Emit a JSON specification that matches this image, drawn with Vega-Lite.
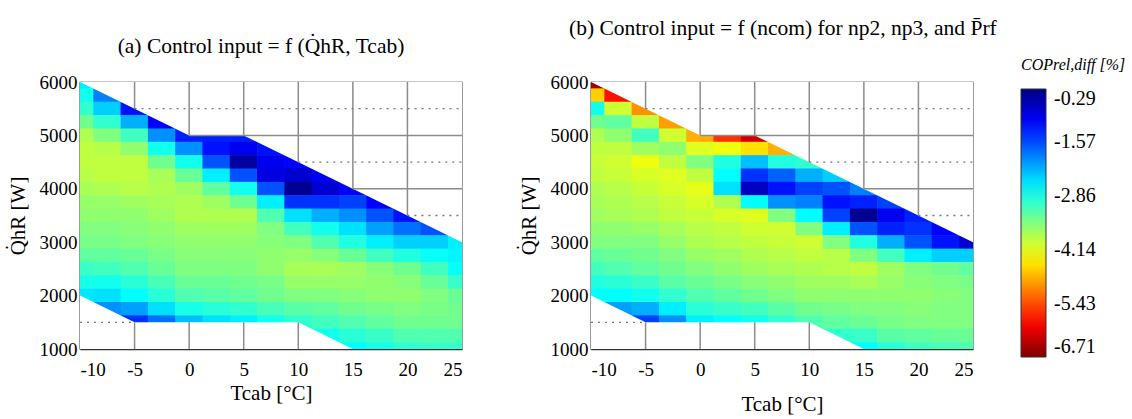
{
"$schema":"https://vega.github.io/schema/vega-lite/v6.json",
"padding":{"left":6,"top":16,"right":5,"bottom":5},
"bounds":"flush",
"spacing":129,
"config":{"view":{"stroke":"#8a8a8a","strokeWidth":1.3},
 "axis":{"labelFont":"Liberation Serif","titleFont":"Liberation Serif","labelFontSize":19,"titleFontSize":21,"titleFontWeight":"normal","labelColor":"black","titleColor":"black","grid":false,"ticks":false,"domainColor":"#333","domainWidth":1.6},
 "legend":{"labelFont":"Liberation Serif","titleFont":"Liberation Serif"},
 "title":{"font":"Liberation Serif","fontSize":21.5,"fontWeight":"normal","color":"black"}},
"datasets":{
"mask":[{"g":"u","x":-10,"y":6000,"y2":6000},{"g":"u","x":0,"y":5000,"y2":6000},{"g":"u","x":5,"y":5000,"y2":6000},{"g":"u","x":25,"y":3000,"y2":6000},
{"g":"l","x":-10,"y":1000,"y2":2000},{"g":"l","x":-5,"y":1000,"y2":1500},{"g":"l","x":10,"y":1000,"y2":1500},{"g":"l","x":15,"y":1000,"y2":1000}],
"grid":[{"x":-5,"x2":-5,"y":5500,"y2":6000,"d":"s"},{"x":0,"x2":0,"y":5000,"y2":6000,"d":"s"},{"x":5,"x2":5,"y":5000,"y2":6000,"d":"s"},{"x":10,"x2":10,"y":4500,"y2":6000,"d":"s"},{"x":15,"x2":15,"y":4000,"y2":6000,"d":"s"},{"x":20,"x2":20,"y":3500,"y2":6000,"d":"s"},{"x":0,"x2":25,"y":5000,"y2":5000,"d":"s"},{"x":15,"x2":25,"y":4000,"y2":4000,"d":"s"},{"x":-5,"x2":25,"y":5500,"y2":5500,"d":"d"},{"x":10,"x2":25,"y":4500,"y2":4500,"d":"d"},{"x":20,"x2":25,"y":3500,"y2":3500,"d":"d"},{"x":-5,"x2":-5,"y":1000,"y2":1500,"d":"s"},{"x":0,"x2":0,"y":1000,"y2":1500,"d":"s"},{"x":5,"x2":5,"y":1000,"y2":1500,"d":"s"},{"x":10,"x2":10,"y":1000,"y2":1500,"d":"s"},{"x":-10,"x2":-5,"y":1500,"y2":1500,"d":"d"}],
"cells":[
{"p":"a","t":-10,"q":6000,"v":-2.6},{"p":"a","t":-10,"q":5750,"v":-2.8},{"p":"a","t":-10,"q":5500,"v":-3.0},{"p":"a","t":-10,"q":5250,"v":-3.4},{"p":"a","t":-10,"q":5000,"v":-3.8},{"p":"a","t":-10,"q":4750,"v":-3.9},{"p":"a","t":-10,"q":4500,"v":-3.9},{"p":"a","t":-10,"q":4250,"v":-3.85},{"p":"a","t":-10,"q":4000,"v":-3.75},{"p":"a","t":-10,"q":3750,"v":-3.65},{"p":"a","t":-10,"q":3500,"v":-3.6},{"p":"a","t":-10,"q":3250,"v":-3.5},{"p":"a","t":-10,"q":3000,"v":-3.45},{"p":"a","t":-10,"q":2750,"v":-3.3},{"p":"a","t":-10,"q":2500,"v":-3.05},{"p":"a","t":-10,"q":2250,"v":-2.85},{"p":"a","t":-10,"q":2000,"v":-2.55},
{"p":"a","t":-7.5,"q":5750,"v":-1.9},{"p":"a","t":-7.5,"q":5500,"v":-2.4},{"p":"a","t":-7.5,"q":5250,"v":-3.0},{"p":"a","t":-7.5,"q":5000,"v":-3.5},{"p":"a","t":-7.5,"q":4750,"v":-3.85},{"p":"a","t":-7.5,"q":4500,"v":-3.9},{"p":"a","t":-7.5,"q":4250,"v":-3.9},{"p":"a","t":-7.5,"q":4000,"v":-3.8},{"p":"a","t":-7.5,"q":3750,"v":-3.65},{"p":"a","t":-7.5,"q":3500,"v":-3.6},{"p":"a","t":-7.5,"q":3250,"v":-3.5},{"p":"a","t":-7.5,"q":3000,"v":-3.45},{"p":"a","t":-7.5,"q":2750,"v":-3.3},{"p":"a","t":-7.5,"q":2500,"v":-3.1},{"p":"a","t":-7.5,"q":2250,"v":-2.8},{"p":"a","t":-7.5,"q":2000,"v":-2.5},{"p":"a","t":-7.5,"q":1750,"v":-2.0},
{"p":"a","t":-5,"q":5500,"v":-1.2},{"p":"a","t":-5,"q":5250,"v":-2.2},{"p":"a","t":-5,"q":5000,"v":-3.1},{"p":"a","t":-5,"q":4750,"v":-3.6},{"p":"a","t":-5,"q":4500,"v":-3.9},{"p":"a","t":-5,"q":4250,"v":-3.9},{"p":"a","t":-5,"q":4000,"v":-3.85},{"p":"a","t":-5,"q":3750,"v":-3.7},{"p":"a","t":-5,"q":3500,"v":-3.6},{"p":"a","t":-5,"q":3250,"v":-3.55},{"p":"a","t":-5,"q":3000,"v":-3.5},{"p":"a","t":-5,"q":2750,"v":-3.35},{"p":"a","t":-5,"q":2500,"v":-3.2},{"p":"a","t":-5,"q":2250,"v":-2.95},{"p":"a","t":-5,"q":2000,"v":-2.7},{"p":"a","t":-5,"q":1750,"v":-2.1},{"p":"a","t":-5,"q":1500,"v":-1.4},
{"p":"a","t":-2.5,"q":5250,"v":-1.1},{"p":"a","t":-2.5,"q":5000,"v":-2.0},{"p":"a","t":-2.5,"q":4750,"v":-2.8},{"p":"a","t":-2.5,"q":4500,"v":-3.4},{"p":"a","t":-2.5,"q":4250,"v":-3.75},{"p":"a","t":-2.5,"q":4000,"v":-3.8},{"p":"a","t":-2.5,"q":3750,"v":-3.75},{"p":"a","t":-2.5,"q":3500,"v":-3.7},{"p":"a","t":-2.5,"q":3250,"v":-3.6},{"p":"a","t":-2.5,"q":3000,"v":-3.55},{"p":"a","t":-2.5,"q":2750,"v":-3.45},{"p":"a","t":-2.5,"q":2500,"v":-3.35},{"p":"a","t":-2.5,"q":2250,"v":-3.15},{"p":"a","t":-2.5,"q":2000,"v":-2.95},{"p":"a","t":-2.5,"q":1750,"v":-2.5},{"p":"a","t":-2.5,"q":1500,"v":-1.8},
{"p":"a","t":0,"q":5000,"v":-1.3},{"p":"a","t":0,"q":4750,"v":-2.0},{"p":"a","t":0,"q":4500,"v":-2.8},{"p":"a","t":0,"q":4250,"v":-3.35},{"p":"a","t":0,"q":4000,"v":-3.7},{"p":"a","t":0,"q":3750,"v":-3.8},{"p":"a","t":0,"q":3500,"v":-3.8},{"p":"a","t":0,"q":3250,"v":-3.7},{"p":"a","t":0,"q":3000,"v":-3.6},{"p":"a","t":0,"q":2750,"v":-3.55},{"p":"a","t":0,"q":2500,"v":-3.5},{"p":"a","t":0,"q":2250,"v":-3.35},{"p":"a","t":0,"q":2000,"v":-3.2},{"p":"a","t":0,"q":1750,"v":-2.85},{"p":"a","t":0,"q":1500,"v":-2.3},
{"p":"a","t":2.5,"q":5000,"v":-1.3},{"p":"a","t":2.5,"q":4750,"v":-1.2},{"p":"a","t":2.5,"q":4500,"v":-1.6},{"p":"a","t":2.5,"q":4250,"v":-2.6},{"p":"a","t":2.5,"q":4000,"v":-3.3},{"p":"a","t":2.5,"q":3750,"v":-3.7},{"p":"a","t":2.5,"q":3500,"v":-3.8},{"p":"a","t":2.5,"q":3250,"v":-3.7},{"p":"a","t":2.5,"q":3000,"v":-3.6},{"p":"a","t":2.5,"q":2750,"v":-3.55},{"p":"a","t":2.5,"q":2500,"v":-3.5},{"p":"a","t":2.5,"q":2250,"v":-3.35},{"p":"a","t":2.5,"q":2000,"v":-3.25},{"p":"a","t":2.5,"q":1750,"v":-2.95},{"p":"a","t":2.5,"q":1500,"v":-2.5},
{"p":"a","t":5,"q":5000,"v":-1.3},{"p":"a","t":5,"q":4750,"v":-1.0},{"p":"a","t":5,"q":4500,"v":-0.5},{"p":"a","t":5,"q":4250,"v":-1.6},{"p":"a","t":5,"q":4000,"v":-2.8},{"p":"a","t":5,"q":3750,"v":-3.4},{"p":"a","t":5,"q":3500,"v":-3.8},{"p":"a","t":5,"q":3250,"v":-3.7},{"p":"a","t":5,"q":3000,"v":-3.6},{"p":"a","t":5,"q":2750,"v":-3.55},{"p":"a","t":5,"q":2500,"v":-3.5},{"p":"a","t":5,"q":2250,"v":-3.4},{"p":"a","t":5,"q":2000,"v":-3.3},{"p":"a","t":5,"q":1750,"v":-3.0},{"p":"a","t":5,"q":1500,"v":-2.6},
{"p":"a","t":7.5,"q":4750,"v":-1.2},{"p":"a","t":7.5,"q":4500,"v":-1.0},{"p":"a","t":7.5,"q":4250,"v":-0.9},{"p":"a","t":7.5,"q":4000,"v":-1.6},{"p":"a","t":7.5,"q":3750,"v":-2.6},{"p":"a","t":7.5,"q":3500,"v":-3.2},{"p":"a","t":7.5,"q":3250,"v":-3.5},{"p":"a","t":7.5,"q":3000,"v":-3.55},{"p":"a","t":7.5,"q":2750,"v":-3.6},{"p":"a","t":7.5,"q":2500,"v":-3.6},{"p":"a","t":7.5,"q":2250,"v":-3.45},{"p":"a","t":7.5,"q":2000,"v":-3.4},{"p":"a","t":7.5,"q":1750,"v":-3.15},{"p":"a","t":7.5,"q":1500,"v":-2.8},
{"p":"a","t":10,"q":4500,"v":-1.1},{"p":"a","t":10,"q":4250,"v":-0.8},{"p":"a","t":10,"q":4000,"v":-0.4},{"p":"a","t":10,"q":3750,"v":-1.4},{"p":"a","t":10,"q":3500,"v":-2.5},{"p":"a","t":10,"q":3250,"v":-3.1},{"p":"a","t":10,"q":3000,"v":-3.5},{"p":"a","t":10,"q":2750,"v":-3.65},{"p":"a","t":10,"q":2500,"v":-3.75},{"p":"a","t":10,"q":2250,"v":-3.65},{"p":"a","t":10,"q":2000,"v":-3.5},{"p":"a","t":10,"q":1750,"v":-3.25},{"p":"a","t":10,"q":1500,"v":-3.0},
{"p":"a","t":12.5,"q":4250,"v":-1.0},{"p":"a","t":12.5,"q":4000,"v":-0.8},{"p":"a","t":12.5,"q":3750,"v":-1.4},{"p":"a","t":12.5,"q":3500,"v":-2.2},{"p":"a","t":12.5,"q":3250,"v":-2.8},{"p":"a","t":12.5,"q":3000,"v":-3.2},{"p":"a","t":12.5,"q":2750,"v":-3.55},{"p":"a","t":12.5,"q":2500,"v":-3.75},{"p":"a","t":12.5,"q":2250,"v":-3.65},{"p":"a","t":12.5,"q":2000,"v":-3.5},{"p":"a","t":12.5,"q":1750,"v":-3.3},{"p":"a","t":12.5,"q":1500,"v":-3.1},{"p":"a","t":12.5,"q":1250,"v":-2.8},
{"p":"a","t":15,"q":4000,"v":-1.1},{"p":"a","t":15,"q":3750,"v":-1.5},{"p":"a","t":15,"q":3500,"v":-2.0},{"p":"a","t":15,"q":3250,"v":-2.5},{"p":"a","t":15,"q":3000,"v":-2.9},{"p":"a","t":15,"q":2750,"v":-3.35},{"p":"a","t":15,"q":2500,"v":-3.7},{"p":"a","t":15,"q":2250,"v":-3.65},{"p":"a","t":15,"q":2000,"v":-3.55},{"p":"a","t":15,"q":1750,"v":-3.4},{"p":"a","t":15,"q":1500,"v":-3.2},{"p":"a","t":15,"q":1250,"v":-2.95},{"p":"a","t":15,"q":1000,"v":-2.7},
{"p":"a","t":17.5,"q":3750,"v":-1.1},{"p":"a","t":17.5,"q":3500,"v":-1.6},{"p":"a","t":17.5,"q":3250,"v":-2.1},{"p":"a","t":17.5,"q":3000,"v":-2.6},{"p":"a","t":17.5,"q":2750,"v":-3.1},{"p":"a","t":17.5,"q":2500,"v":-3.55},{"p":"a","t":17.5,"q":2250,"v":-3.6},{"p":"a","t":17.5,"q":2000,"v":-3.6},{"p":"a","t":17.5,"q":1750,"v":-3.45},{"p":"a","t":17.5,"q":1500,"v":-3.3},{"p":"a","t":17.5,"q":1250,"v":-3.05},{"p":"a","t":17.5,"q":1000,"v":-2.85},
{"p":"a","t":20,"q":3500,"v":-1.2},{"p":"a","t":20,"q":3250,"v":-1.8},{"p":"a","t":20,"q":3000,"v":-2.4},{"p":"a","t":20,"q":2750,"v":-2.9},{"p":"a","t":20,"q":2500,"v":-3.4},{"p":"a","t":20,"q":2250,"v":-3.55},{"p":"a","t":20,"q":2000,"v":-3.6},{"p":"a","t":20,"q":1750,"v":-3.5},{"p":"a","t":20,"q":1500,"v":-3.4},{"p":"a","t":20,"q":1250,"v":-3.2},{"p":"a","t":20,"q":1000,"v":-3.0},
{"p":"a","t":22.5,"q":3250,"v":-1.6},{"p":"a","t":22.5,"q":3000,"v":-2.4},{"p":"a","t":22.5,"q":2750,"v":-2.75},{"p":"a","t":22.5,"q":2500,"v":-3.1},{"p":"a","t":22.5,"q":2250,"v":-3.35},{"p":"a","t":22.5,"q":2000,"v":-3.5},{"p":"a","t":22.5,"q":1750,"v":-3.45},{"p":"a","t":22.5,"q":1500,"v":-3.4},{"p":"a","t":22.5,"q":1250,"v":-3.2},{"p":"a","t":22.5,"q":1000,"v":-3.05},
{"p":"a","t":25,"q":3000,"v":-2.6},{"p":"a","t":25,"q":2750,"v":-2.65},{"p":"a","t":25,"q":2500,"v":-2.75},{"p":"a","t":25,"q":2250,"v":-3.05},{"p":"a","t":25,"q":2000,"v":-3.35},{"p":"a","t":25,"q":1750,"v":-3.4},{"p":"a","t":25,"q":1500,"v":-3.4},{"p":"a","t":25,"q":1250,"v":-3.2},{"p":"a","t":25,"q":1000,"v":-3.05},
{"p":"b","t":-10,"q":6000,"v":-6.5},{"p":"b","t":-10,"q":5750,"v":-4.6},{"p":"b","t":-10,"q":5500,"v":-2.8},{"p":"b","t":-10,"q":5250,"v":-3.4},{"p":"b","t":-10,"q":5000,"v":-3.8},{"p":"b","t":-10,"q":4750,"v":-3.9},{"p":"b","t":-10,"q":4500,"v":-3.95},{"p":"b","t":-10,"q":4250,"v":-3.9},{"p":"b","t":-10,"q":4000,"v":-3.8},{"p":"b","t":-10,"q":3750,"v":-3.75},{"p":"b","t":-10,"q":3500,"v":-3.7},{"p":"b","t":-10,"q":3250,"v":-3.6},{"p":"b","t":-10,"q":3000,"v":-3.5},{"p":"b","t":-10,"q":2750,"v":-3.3},{"p":"b","t":-10,"q":2500,"v":-3.1},{"p":"b","t":-10,"q":2250,"v":-2.9},{"p":"b","t":-10,"q":2000,"v":-2.7},
{"p":"b","t":-7.5,"q":5750,"v":-5.8},{"p":"b","t":-7.5,"q":5500,"v":-4.0},{"p":"b","t":-7.5,"q":5250,"v":-3.3},{"p":"b","t":-7.5,"q":5000,"v":-3.6},{"p":"b","t":-7.5,"q":4750,"v":-3.9},{"p":"b","t":-7.5,"q":4500,"v":-4.0},{"p":"b","t":-7.5,"q":4250,"v":-3.95},{"p":"b","t":-7.5,"q":4000,"v":-3.85},{"p":"b","t":-7.5,"q":3750,"v":-3.8},{"p":"b","t":-7.5,"q":3500,"v":-3.75},{"p":"b","t":-7.5,"q":3250,"v":-3.6},{"p":"b","t":-7.5,"q":3000,"v":-3.5},{"p":"b","t":-7.5,"q":2750,"v":-3.35},{"p":"b","t":-7.5,"q":2500,"v":-3.2},{"p":"b","t":-7.5,"q":2250,"v":-2.95},{"p":"b","t":-7.5,"q":2000,"v":-2.7},{"p":"b","t":-7.5,"q":1750,"v":-2.1},
{"p":"b","t":-5,"q":5500,"v":-5.0},{"p":"b","t":-5,"q":5250,"v":-3.9},{"p":"b","t":-5,"q":5000,"v":-3.1},{"p":"b","t":-5,"q":4750,"v":-3.7},{"p":"b","t":-5,"q":4500,"v":-4.2},{"p":"b","t":-5,"q":4250,"v":-4.05},{"p":"b","t":-5,"q":4000,"v":-3.95},{"p":"b","t":-5,"q":3750,"v":-3.85},{"p":"b","t":-5,"q":3500,"v":-3.8},{"p":"b","t":-5,"q":3250,"v":-3.65},{"p":"b","t":-5,"q":3000,"v":-3.5},{"p":"b","t":-5,"q":2750,"v":-3.4},{"p":"b","t":-5,"q":2500,"v":-3.3},{"p":"b","t":-5,"q":2250,"v":-3.05},{"p":"b","t":-5,"q":2000,"v":-2.8},{"p":"b","t":-5,"q":1750,"v":-2.2},{"p":"b","t":-5,"q":1500,"v":-1.5},
{"p":"b","t":-2.5,"q":5250,"v":-4.9},{"p":"b","t":-2.5,"q":5000,"v":-4.0},{"p":"b","t":-2.5,"q":4750,"v":-3.6},{"p":"b","t":-2.5,"q":4500,"v":-3.9},{"p":"b","t":-2.5,"q":4250,"v":-4.1},{"p":"b","t":-2.5,"q":4000,"v":-4.05},{"p":"b","t":-2.5,"q":3750,"v":-3.95},{"p":"b","t":-2.5,"q":3500,"v":-3.9},{"p":"b","t":-2.5,"q":3250,"v":-3.75},{"p":"b","t":-2.5,"q":3000,"v":-3.65},{"p":"b","t":-2.5,"q":2750,"v":-3.5},{"p":"b","t":-2.5,"q":2500,"v":-3.4},{"p":"b","t":-2.5,"q":2250,"v":-3.25},{"p":"b","t":-2.5,"q":2000,"v":-3.0},{"p":"b","t":-2.5,"q":1750,"v":-2.6},{"p":"b","t":-2.5,"q":1500,"v":-2.0},
{"p":"b","t":0,"q":5000,"v":-4.8},{"p":"b","t":0,"q":4750,"v":-4.1},{"p":"b","t":0,"q":4500,"v":-3.5},{"p":"b","t":0,"q":4250,"v":-3.9},{"p":"b","t":0,"q":4000,"v":-4.15},{"p":"b","t":0,"q":3750,"v":-4.05},{"p":"b","t":0,"q":3500,"v":-3.95},{"p":"b","t":0,"q":3250,"v":-3.85},{"p":"b","t":0,"q":3000,"v":-3.8},{"p":"b","t":0,"q":2750,"v":-3.65},{"p":"b","t":0,"q":2500,"v":-3.5},{"p":"b","t":0,"q":2250,"v":-3.35},{"p":"b","t":0,"q":2000,"v":-3.2},{"p":"b","t":0,"q":1750,"v":-2.95},{"p":"b","t":0,"q":1500,"v":-2.6},
{"p":"b","t":2.5,"q":5000,"v":-5.6},{"p":"b","t":2.5,"q":4750,"v":-4.2},{"p":"b","t":2.5,"q":4500,"v":-2.9},{"p":"b","t":2.5,"q":4250,"v":-2.7},{"p":"b","t":2.5,"q":4000,"v":-2.5},{"p":"b","t":2.5,"q":3750,"v":-3.8},{"p":"b","t":2.5,"q":3500,"v":-4.05},{"p":"b","t":2.5,"q":3250,"v":-3.9},{"p":"b","t":2.5,"q":3000,"v":-3.85},{"p":"b","t":2.5,"q":2750,"v":-3.7},{"p":"b","t":2.5,"q":2500,"v":-3.6},{"p":"b","t":2.5,"q":2250,"v":-3.45},{"p":"b","t":2.5,"q":2000,"v":-3.3},{"p":"b","t":2.5,"q":1750,"v":-3.05},{"p":"b","t":2.5,"q":1500,"v":-2.7},
{"p":"b","t":5,"q":5000,"v":-6.2},{"p":"b","t":5,"q":4750,"v":-4.5},{"p":"b","t":5,"q":4500,"v":-2.3},{"p":"b","t":5,"q":4250,"v":-1.4},{"p":"b","t":5,"q":4000,"v":-0.7},{"p":"b","t":5,"q":3750,"v":-2.7},{"p":"b","t":5,"q":3500,"v":-4.1},{"p":"b","t":5,"q":3250,"v":-4.0},{"p":"b","t":5,"q":3000,"v":-3.9},{"p":"b","t":5,"q":2750,"v":-3.8},{"p":"b","t":5,"q":2500,"v":-3.7},{"p":"b","t":5,"q":2250,"v":-3.55},{"p":"b","t":5,"q":2000,"v":-3.4},{"p":"b","t":5,"q":1750,"v":-3.1},{"p":"b","t":5,"q":1500,"v":-2.8},
{"p":"b","t":7.5,"q":4750,"v":-4.8},{"p":"b","t":7.5,"q":4500,"v":-2.9},{"p":"b","t":7.5,"q":4250,"v":-1.7},{"p":"b","t":7.5,"q":4000,"v":-1.2},{"p":"b","t":7.5,"q":3750,"v":-2.0},{"p":"b","t":7.5,"q":3500,"v":-3.5},{"p":"b","t":7.5,"q":3250,"v":-4.0},{"p":"b","t":7.5,"q":3000,"v":-3.95},{"p":"b","t":7.5,"q":2750,"v":-3.85},{"p":"b","t":7.5,"q":2500,"v":-3.75},{"p":"b","t":7.5,"q":2250,"v":-3.6},{"p":"b","t":7.5,"q":2000,"v":-3.5},{"p":"b","t":7.5,"q":1750,"v":-3.25},{"p":"b","t":7.5,"q":1500,"v":-3.0},
{"p":"b","t":10,"q":4500,"v":-3.0},{"p":"b","t":10,"q":4250,"v":-2.2},{"p":"b","t":10,"q":4000,"v":-1.5},{"p":"b","t":10,"q":3750,"v":-1.9},{"p":"b","t":10,"q":3500,"v":-2.7},{"p":"b","t":10,"q":3250,"v":-3.5},{"p":"b","t":10,"q":3000,"v":-4.0},{"p":"b","t":10,"q":2750,"v":-3.9},{"p":"b","t":10,"q":2500,"v":-3.8},{"p":"b","t":10,"q":2250,"v":-3.7},{"p":"b","t":10,"q":2000,"v":-3.6},{"p":"b","t":10,"q":1750,"v":-3.4},{"p":"b","t":10,"q":1500,"v":-3.2},
{"p":"b","t":12.5,"q":4250,"v":-2.4},{"p":"b","t":12.5,"q":4000,"v":-1.6},{"p":"b","t":12.5,"q":3750,"v":-1.2},{"p":"b","t":12.5,"q":3500,"v":-1.5},{"p":"b","t":12.5,"q":3250,"v":-2.6},{"p":"b","t":12.5,"q":3000,"v":-3.5},{"p":"b","t":12.5,"q":2750,"v":-3.85},{"p":"b","t":12.5,"q":2500,"v":-3.85},{"p":"b","t":12.5,"q":2250,"v":-3.7},{"p":"b","t":12.5,"q":2000,"v":-3.6},{"p":"b","t":12.5,"q":1750,"v":-3.45},{"p":"b","t":12.5,"q":1500,"v":-3.3},{"p":"b","t":12.5,"q":1250,"v":-3.0},
{"p":"b","t":15,"q":4000,"v":-1.9},{"p":"b","t":15,"q":3750,"v":-1.3},{"p":"b","t":15,"q":3500,"v":-0.4},{"p":"b","t":15,"q":3250,"v":-1.6},{"p":"b","t":15,"q":3000,"v":-2.9},{"p":"b","t":15,"q":2750,"v":-3.5},{"p":"b","t":15,"q":2500,"v":-3.9},{"p":"b","t":15,"q":2250,"v":-3.75},{"p":"b","t":15,"q":2000,"v":-3.6},{"p":"b","t":15,"q":1750,"v":-3.5},{"p":"b","t":15,"q":1500,"v":-3.35},{"p":"b","t":15,"q":1250,"v":-3.05},{"p":"b","t":15,"q":1000,"v":-2.7},
{"p":"b","t":17.5,"q":3750,"v":-1.5},{"p":"b","t":17.5,"q":3500,"v":-1.0},{"p":"b","t":17.5,"q":3250,"v":-1.3},{"p":"b","t":17.5,"q":3000,"v":-2.2},{"p":"b","t":17.5,"q":2750,"v":-3.1},{"p":"b","t":17.5,"q":2500,"v":-3.7},{"p":"b","t":17.5,"q":2250,"v":-3.65},{"p":"b","t":17.5,"q":2000,"v":-3.6},{"p":"b","t":17.5,"q":1750,"v":-3.5},{"p":"b","t":17.5,"q":1500,"v":-3.45},{"p":"b","t":17.5,"q":1250,"v":-3.25},{"p":"b","t":17.5,"q":1000,"v":-2.95},
{"p":"b","t":20,"q":3500,"v":-1.3},{"p":"b","t":20,"q":3250,"v":-1.4},{"p":"b","t":20,"q":3000,"v":-1.6},{"p":"b","t":20,"q":2750,"v":-2.6},{"p":"b","t":20,"q":2500,"v":-3.5},{"p":"b","t":20,"q":2250,"v":-3.55},{"p":"b","t":20,"q":2000,"v":-3.6},{"p":"b","t":20,"q":1750,"v":-3.55},{"p":"b","t":20,"q":1500,"v":-3.5},{"p":"b","t":20,"q":1250,"v":-3.3},{"p":"b","t":20,"q":1000,"v":-3.1},
{"p":"b","t":22.5,"q":3250,"v":-1.1},{"p":"b","t":22.5,"q":3000,"v":-1.2},{"p":"b","t":22.5,"q":2750,"v":-2.4},{"p":"b","t":22.5,"q":2500,"v":-3.4},{"p":"b","t":22.5,"q":2250,"v":-3.5},{"p":"b","t":22.5,"q":2000,"v":-3.55},{"p":"b","t":22.5,"q":1750,"v":-3.5},{"p":"b","t":22.5,"q":1500,"v":-3.5},{"p":"b","t":22.5,"q":1250,"v":-3.35},{"p":"b","t":22.5,"q":1000,"v":-3.15},
{"p":"b","t":25,"q":3000,"v":-0.8},{"p":"b","t":25,"q":2750,"v":-2.4},{"p":"b","t":25,"q":2500,"v":-3.3},{"p":"b","t":25,"q":2250,"v":-3.45},{"p":"b","t":25,"q":2000,"v":-3.5},{"p":"b","t":25,"q":1750,"v":-3.5},{"p":"b","t":25,"q":1500,"v":-3.5},{"p":"b","t":25,"q":1250,"v":-3.35},{"p":"b","t":25,"q":1000,"v":-3.2}
]},
"hconcat":[
{"width":382,"height":267,
 "title":{"text":"(a) Control input = f (Q\u0307hR, Tcab)","offset":16,"dx":-10,"font":"Liberation Serif","fontWeight":"normal"},
 "layer":[
  {"data":{"name":"cells"},"transform":[{"filter":"datum.p == 'a'"}],
   "mark":{"type":"rect","clip":true,"width":27.9,"height":13.9,"strokeWidth":0},
   "encoding":{
    "x":{"field":"t","type":"quantitative","scale":{"domain":[-10,25],"nice":false,"zero":false},"axis":{"values":[-10,-5,0,5,10,15,20,25],"labelExpr":"datum.value < 0 ? '-' + (-datum.value) : '' + datum.value","title":"Tcab  [°C]","labelPadding":11,"titlePadding":3,"labelFont":"Liberation Serif","titleFont":"Liberation Serif"}},
    "y":{"field":"q","type":"quantitative","scale":{"domain":[1000,6000],"nice":false,"zero":false},"axis":{"values":[1000,2000,3000,4000,5000,6000],"format":"d","title":"Q\u0307hR  [W]","labelPadding":3,"titlePadding":11,"labelFont":"Liberation Serif","titleFont":"Liberation Serif"}},
    "color":{"field":"v","type":"quantitative","scale":{"type":"linear","domain":[-6.71,-5.9075,-4.3025,-2.6975,-1.0925,-0.29],"range":["#800000","#ff0000","#ffff00","#00ffff","#0000ff","#000080"],"interpolate":"rgb"},
     "legend":{"title":"COPrel,diff [%]","orient":"none","legendX":941,"legendY":-25,"direction":"vertical","gradientLength":268,"gradientThickness":25,"values":[-6.71,-5.43,-4.14,-2.86,-1.57,-0.29],"labelExpr":"'-' + format(-datum.value, '.2f')","labelFont":"Liberation Serif","labelFontSize":20,"labelColor":"black","titleFont":"Liberation Serif","titleFontSize":16,"titleFontWeight":"normal","titleFontStyle":"italic","titleColor":"black","labelOffset":8,"gradientStrokeColor":"#333","gradientStrokeWidth":1,"labelOverlap":false,"titlePadding":16,"titleLimit":200}}}},
  {"data":{"name":"mask"},"mark":{"type":"area","color":"white","clip":true,"opacity":1},
   "encoding":{"x":{"field":"x","type":"quantitative"},"y":{"field":"y","type":"quantitative"},"y2":{"field":"y2"},"detail":{"field":"g"}}},
  {"data":{"name":"grid"},"transform":[{"filter":"datum.d == 's'"}],"mark":{"type":"rule","color":"#8c8c8c","strokeWidth":1.5},
   "encoding":{"x":{"field":"x","type":"quantitative"},"x2":{"field":"x2"},"y":{"field":"y","type":"quantitative"},"y2":{"field":"y2"}}},
  {"data":{"name":"grid"},"transform":[{"filter":"datum.d == 'd'"}],"mark":{"type":"rule","color":"#777","strokeWidth":1.3,"strokeDash":[2,5]},
   "encoding":{"x":{"field":"x","type":"quantitative"},"x2":{"field":"x2"},"y":{"field":"y","type":"quantitative"},"y2":{"field":"y2"}}}
 ]},
{"width":382,"height":267,
 "title":{"text":"(b) Control input = f (ncom) for np2, np3, and P\u0304rf","offset":34,"anchor":"start","frame":"group","dx":-22,"font":"Liberation Serif","fontWeight":"normal"},
 "layer":[
  {"data":{"name":"cells"},"transform":[{"filter":"datum.p == 'b'"}],
   "mark":{"type":"rect","clip":true,"width":27.9,"height":13.9,"strokeWidth":0},
   "encoding":{
    "x":{"field":"t","type":"quantitative","scale":{"domain":[-10,25],"nice":false,"zero":false},"axis":{"values":[-10,-5,0,5,10,15,20,25],"labelExpr":"datum.value < 0 ? '-' + (-datum.value) : '' + datum.value","title":"Tcab  [°C]","labelPadding":11,"titlePadding":14,"labelFont":"Liberation Serif","titleFont":"Liberation Serif"}},
    "y":{"field":"q","type":"quantitative","scale":{"domain":[1000,6000],"nice":false,"zero":false},"axis":{"values":[1000,2000,3000,4000,5000,6000],"format":"d","title":"Q\u0307hR  [W]","labelPadding":3,"titlePadding":11,"labelFont":"Liberation Serif","titleFont":"Liberation Serif"}},
    "color":{"field":"v","type":"quantitative","scale":{"type":"linear","domain":[-6.71,-5.9075,-4.3025,-2.6975,-1.0925,-0.29],"range":["#800000","#ff0000","#ffff00","#00ffff","#0000ff","#000080"],"interpolate":"rgb"},
     "legend":{"title":"COPrel,diff [%]","orient":"none","legendX":941,"legendY":-25,"direction":"vertical","gradientLength":268,"gradientThickness":25,"values":[-6.71,-5.43,-4.14,-2.86,-1.57,-0.29],"labelExpr":"'-' + format(-datum.value, '.2f')","labelFont":"Liberation Serif","labelFontSize":20,"labelColor":"black","titleFont":"Liberation Serif","titleFontSize":16,"titleFontWeight":"normal","titleFontStyle":"italic","titleColor":"black","labelOffset":8,"gradientStrokeColor":"#333","gradientStrokeWidth":1,"labelOverlap":false,"titlePadding":16,"titleLimit":200}}}},
  {"data":{"name":"mask"},"mark":{"type":"area","color":"white","clip":true,"opacity":1},
   "encoding":{"x":{"field":"x","type":"quantitative"},"y":{"field":"y","type":"quantitative"},"y2":{"field":"y2"},"detail":{"field":"g"}}},
  {"data":{"name":"grid"},"transform":[{"filter":"datum.d == 's'"}],"mark":{"type":"rule","color":"#8c8c8c","strokeWidth":1.5},
   "encoding":{"x":{"field":"x","type":"quantitative"},"x2":{"field":"x2"},"y":{"field":"y","type":"quantitative"},"y2":{"field":"y2"}}},
  {"data":{"name":"grid"},"transform":[{"filter":"datum.d == 'd'"}],"mark":{"type":"rule","color":"#777","strokeWidth":1.3,"strokeDash":[2,5]},
   "encoding":{"x":{"field":"x","type":"quantitative"},"x2":{"field":"x2"},"y":{"field":"y","type":"quantitative"},"y2":{"field":"y2"}}}
 ]}
]}
